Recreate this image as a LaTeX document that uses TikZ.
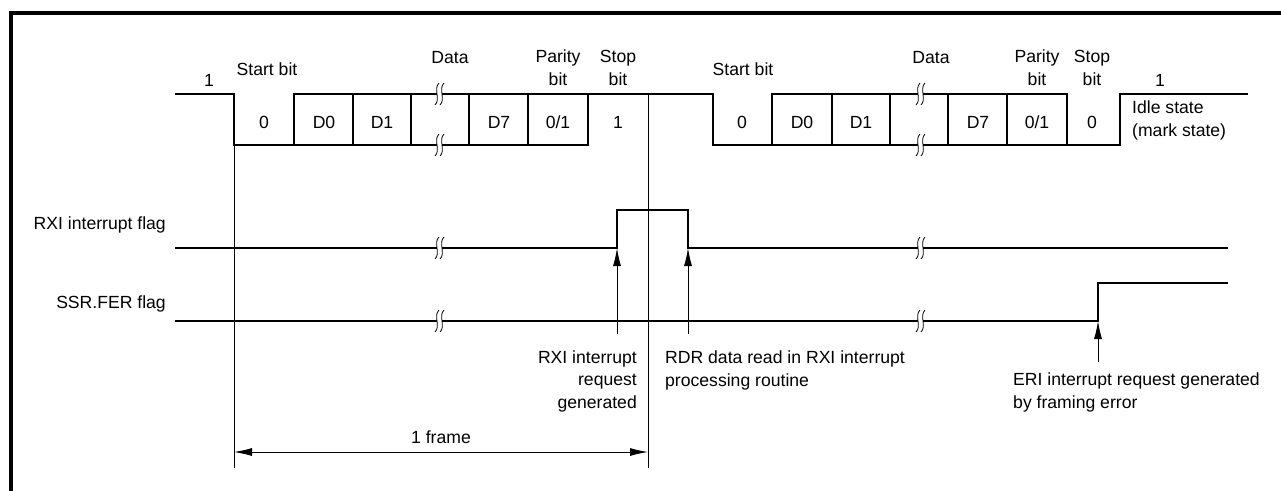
\documentclass[tikz,border=0pt]{standalone}
\usepackage{fontspec}
\setmainfont{Liberation Sans}
\usetikzlibrary{arrows.meta}

\tikzset{
  wave/.style={line width=1.8pt},
  guide/.style={line width=0.9pt},
  uparrow/.style={line width=0.9pt, -{Latex[length=18pt,width=8pt]}},
  lbl/.style={inner sep=0pt, anchor=base},
}
% break mark on a line at (#1,#2)
\newcommand{\brkmark}[2]{%
  \fill[white] (#1,#2-2.5) rectangle (#1+5,#2+2.5);
  \draw[line width=0.8pt] (#1+2,#2-11) .. controls (#1-4,#2-5) and (#1+4,#2+5) .. (#1-2,#2+11);
  \draw[line width=0.8pt] (#1+7,#2-11) .. controls (#1+1,#2-5) and (#1+9,#2+5) .. (#1+3,#2+11);
}

\begin{document}
\begin{tikzpicture}[x=1pt, y=-1pt, every node/.style={font=\fontsize{17.6}{22.5}\selectfont}]
  \useasboundingbox (0,0) rectangle (1281,490);
  \draw[line width=3.5pt] (11,492) -- (11,13) -- (1283,13);

  % serial data
  \draw[wave] (175,94) -- (234,94) -- (234,145) -- (588,145) -- (588,94);
  \draw[wave] (294,145) -- (294,94) -- (713,94) -- (713,145) -- (1120,145) -- (1120,94) -- (1248,94);
  \draw[wave] (772,145) -- (772,94) -- (1067,94) -- (1067,145);
  \foreach \x in {353,411,469,528,832,890,948,1007}
    \draw[wave] (\x,94) -- (\x,145);

  \foreach \x/\t [count=\i] in {264/0, 324/D0, 382/D1, 499/D7, 558/0{/}1, 618/1,
                                742/0, 802/D0, 861/D1, 978/D7, 1037/0{/}1, 1092/0}
    \node[lbl] (cell\i) at (\x,128) {\t};

  % labels (base of a multi-line node = its last line)
  \node[lbl] (idle1) at (209,86) {1};
  \node[lbl] (start1) at (267,75) {Start bit};
  \node[lbl] (data1) at (450,63) {Data};
  \node[lbl, align=center] (par1) at (558,85) {Parity\\bit};
  \node[lbl, align=center] (stop1) at (618,85) {Stop\\bit};
  \node[lbl] (start2) at (743,75) {Start bit};
  \node[lbl] (data2) at (931,63) {Data};
  \node[lbl, align=center] (par2) at (1037,85) {Parity\\bit};
  \node[lbl, align=center] (stop2) at (1092,85) {Stop\\bit};
  \node[lbl] (idle2) at (1160,86) {1};
  \node[lbl, anchor=base west, align=left] (idlest) at (1132,136) {Idle state\\(mark state)};

  % flags
  \node[lbl, anchor=base east] (rxilbl) at (166,229) {RXI interrupt flag};
  \node[lbl, anchor=base east] (ferlbl) at (166,308) {SSR.FER flag};
  \draw[wave] (175,248) -- (617,248) -- (617,210) -- (688,210) -- (688,248) -- (1228,248);
  \draw[wave] (175,321) -- (1098,321) -- (1098,283) -- (1228,283);

  \foreach \x/\y in {437/94, 437/145, 918/94, 918/145, 437/248, 918/248, 437/321, 918/321}
    {\brkmark{\x}{\y}}

  % frame
  \coordinate (fa) at (234,145);
  \coordinate (fb) at (648,94);
  \coordinate (fa2) at (234,468);
  \coordinate (fb2) at (648,468);
  \draw[guide] (fa) -- (fa2);
  \draw[guide] (fb) -- (fb2);
  \coordinate (spanl) at (234,452);
  \coordinate (spanr) at (648,452);
  \draw[line width=0.9pt, {Latex[length=18pt,width=8pt]}-{Latex[length=18pt,width=8pt]}] (spanl) -- (spanr);
  \node[lbl] (frm) at (441,443) {1 frame};

  % events
  \coordinate (rxiup) at (617,248);
  \coordinate (rxifoot) at (617,334);
  \coordinate (rdrup) at (688,248);
  \coordinate (rdrfoot) at (688,334);
  \coordinate (eriup) at (1098,321);
  \coordinate (erifoot) at (1098,362);
  \draw[uparrow] (rxifoot) -- (rxiup);
  \draw[uparrow] (rdrfoot) -- (rdrup);
  \draw[uparrow] (erifoot) -- (eriup);

  \node[lbl, anchor=base east, align=right] (rxitxt) at (637,408) {RXI interrupt\\request\\generated};
  \node[lbl, anchor=base west, align=left] (rdrtxt) at (665,386) {RDR data read in RXI interrupt\\processing routine};
  \node[lbl, anchor=base west, align=left] (eritxt) at (1013,408) {ERI interrupt request generated\\by framing error};
\end{tikzpicture}
\end{document}
